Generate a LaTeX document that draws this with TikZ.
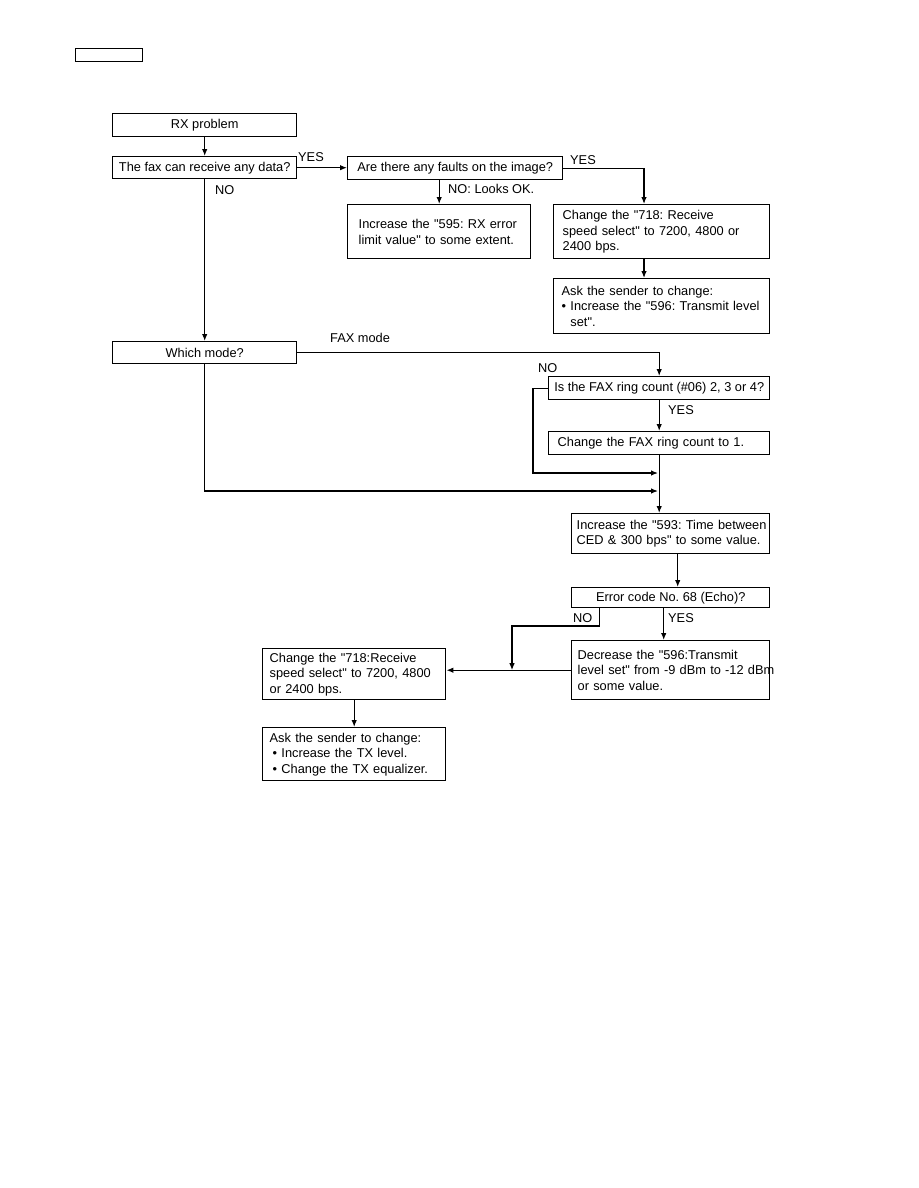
\documentclass[tikz,border=0pt]{standalone}
\usepackage{fontspec}
\setmainfont{Liberation Sans}[Ligatures=TeXOff]
\usetikzlibrary{arrows.meta}
\frenchspacing

\tikzset{
    box/.style={draw, line width=1.4pt, anchor=north west, inner sep=0pt, font=\fontsize{12.8}{15.5}\selectfont},
    lbox/.style={box, align=left},
    lbl/.style={anchor=west, inner sep=0pt, font=\fontsize{12.8}{15.5}\selectfont},
    arr/.style={line width=1.2pt, -{Latex[length=7pt,width=5.5pt]}},
    ln/.style={line width=1.2pt}
}

\begin{document}
\begin{tikzpicture}[x=1pt, y=-1pt]
    \useasboundingbox (0,0) rectangle (918,1188);
    \node[box, minimum width=67, minimum height=13] (header) at (75,48) {};
    % upper part
    \node[box, minimum width=184, minimum height=23] (rx) at (112,113) {RX problem};
    \node[box, minimum width=184, minimum height=22] (fax) at (112,156) {The fax can receive any data?};
    \node[box, minimum width=215, minimum height=23] (faults) at (347,156) {Are there any faults on the image?};
    \node[lbox, inner xsep=11pt, text width=161pt, minimum height=54] (inc595) at (347,204)
        {Increase the "595: RX error\\limit value" to some extent.};
    \node[lbox, inner xsep=9pt, text width=198pt, minimum height=54] (chgA) at (553,204)
        {Change the "718: Receive\\speed select" to 7200, 4800 or\\2400 bps.};
    \node[lbox, inner xsep=8pt, text width=200pt, minimum height=55] (askA) at (553,278)
        {Ask the sender to change:\\\mbox{• Increase the "596: Transmit level}\\\phantom{• }set".};
    \node[box, minimum width=184, minimum height=22] (which) at (112,341) {Which mode?};
    % FAX mode branch
    \node[box, minimum width=221, minimum height=23] (ring) at (548,376) {Is the FAX ring count (\#06) 2, 3 or 4?};
    \node[lbox, inner xsep=9pt, text width=203pt, minimum height=23] (chgring) at (548,431)
        {Change the FAX ring count to 1.};
    \node[lbox, inner xsep=5pt, text width=188pt, minimum height=40] (inc593) at (571,513)
        {\mbox{Increase the "593: Time between}\\CED \& 300 bps" to some value.};
    \node[box, minimum width=198, minimum height=20] (err) at (571,587) {Error code No. 68 (Echo)?};
    \node[lbox, inner xsep=6pt, text width=186pt, minimum height=59] (dec) at (571,640)
        {Decrease the "596:Transmit\\\mbox{level set" from -9 dBm to -12 dBm}\\or some value.};
    \node[lbox, inner xsep=7pt, text width=169pt, minimum height=51] (chgB) at (262,648)
        {Change the "718:Receive\\speed select" to 7200, 4800\\or 2400 bps.};
    \node[lbox, inner xsep=7pt, text width=169pt, minimum height=53] (askB) at (262,727)
        {Ask the sender to change:\\\hspace*{3pt}• Increase the TX level.\\\hspace*{3pt}• Change the TX equalizer.};

    % labels
    \node[lbl] (yesA) at (298,157) {YES};
    \node[lbl] (noA) at (215,190) {NO};
    \node[lbl] (yesB) at (570,160) {YES};
    \node[lbl] (noB) at (448,189) {NO: Looks OK.};
    \node[lbl] (faxmode) at (330,338) {FAX mode};
    \node[lbl] (noC) at (538,368) {NO};
    \node[lbl] (yesC) at (668,410) {YES};
    \node[lbl] (noD) at (573,618) {NO};
    \node[lbl] (yesD) at (668,618) {YES};

    \coordinate (chgAin) at (644,204);
    \coordinate (ringloop) at (533,473);
    \coordinate (joinA) at (658,473);
    \coordinate (joinB) at (658,491);
    \coordinate (nobend) at (512,626);

    % connectors
    \draw[arr] (rx.south) -- (fax.north);
    \draw[arr] (fax.east) -- (faults.west |- fax.east);
    \draw[arr] (faults.east) -| (chgAin);
    \draw[arr] (inc595.north |- faults.south) -- (inc595.north);
    \draw[arr] (chgAin |- chgA.south) -- (chgAin |- askA.north);
    \draw[arr] (fax.south) -- (which.north);
    \draw[arr] (which.east) -| (ring.north);
    \draw[arr] (ring.south) -- (chgring.north);
    \draw[arr] (ring.west) -| (ringloop) -- (joinA);
    \draw[arr] (which.south) |- (joinB);
    \draw[arr] (chgring.south) -- (chgring.south |- inc593.north);
    \draw[arr] ([xshift=7pt]inc593.south) -- ([xshift=7pt]err.north);
    \draw[arr] ([xshift=-7pt]err.south) -- ([xshift=-7pt]err.south |- dec.north);
    \draw[arr] ([xshift=-71pt]err.south) |- (nobend) -- (nobend |- dec.west);
    \draw[arr] (dec.west) -- (chgB.east |- dec.west);
    \draw[arr] (chgB.south) -- (askB.north);
\end{tikzpicture}
\end{document}
